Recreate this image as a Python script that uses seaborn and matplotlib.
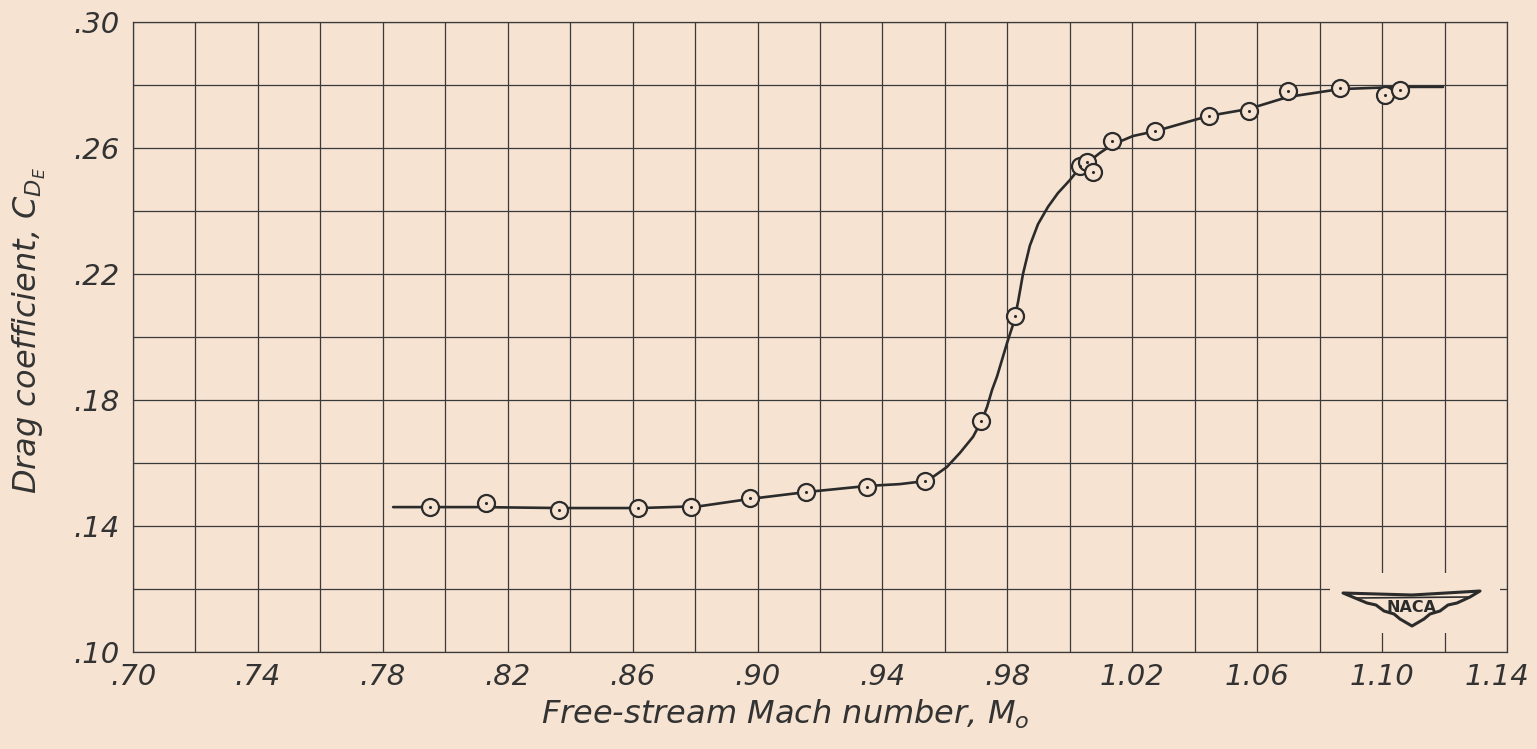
import numpy as np
import pandas as pd
import matplotlib
matplotlib.use("Agg")
import matplotlib.pyplot as plt
import matplotlib.transforms as mtransforms
import seaborn as sns
from matplotlib.patches import Rectangle, Polygon

# ---------------- data ----------------
mach_pts = [0.7951, 0.8130, 0.8364, 0.8617, 0.8787, 0.8976, 0.9155, 0.9350,
            0.9536, 0.9715, 0.9824, 1.0032, 1.0055, 1.0074, 1.0135, 1.0272,
            1.0445, 1.0573, 1.0698, 1.0865, 1.1009, 1.1057]
cd_pts = [0.1460, 0.1473, 0.1451, 0.1457, 0.1460, 0.1489, 0.1508, 0.1524,
          0.1543, 0.1733, 0.2067, 0.2543, 0.2556, 0.2524, 0.2622, 0.2654,
          0.2702, 0.2717, 0.2781, 0.2790, 0.2768, 0.2784]

mach_curve = [0.7833, 0.8111, 0.8367, 0.8623, 0.8816, 0.8976, 0.9158, 0.9350,
              0.9456, 0.9539, 0.9562, 0.9606, 0.9648, 0.9690, 0.9719, 0.9735,
              0.9751, 0.9767, 0.9799, 0.9820, 0.9834, 0.9850, 0.9872, 0.9898,
              0.9930, 0.9962, 1.0000, 1.0026, 1.0055, 1.0096, 1.0135, 1.0202,
              1.0276, 1.0445, 1.0573, 1.0698, 1.0865, 1.1057, 1.1195]
cd_curve = [0.1460, 0.1460, 0.1457, 0.1457, 0.1463, 0.1486, 0.1508, 0.1527,
            0.1533, 0.1543, 0.1556, 0.1587, 0.1632, 0.1683, 0.1737, 0.1778,
            0.1832, 0.1875, 0.1981, 0.2045, 0.2110, 0.2200, 0.2290, 0.2358,
            0.2413, 0.2457, 0.2498, 0.2530, 0.2552, 0.2584, 0.2610, 0.2638,
            0.2654, 0.2702, 0.2724, 0.2762, 0.2787, 0.2794, 0.2794]

x_ticks = [0.70, 0.74, 0.78, 0.82, 0.86, 0.90, 0.94, 0.98, 1.02, 1.06, 1.10, 1.14]
x_labels = [".70", ".74", ".78", ".82", ".86", ".90", ".94", ".98",
            "1.02", "1.06", "1.10", "1.14"]
y_ticks = [0.10, 0.14, 0.18, 0.22, 0.26, 0.30]
y_labels = [".10", ".14", ".18", ".22", ".26", ".30"]

# ---------------- style ----------------
BG = "#f6e3d2"
INK = "#2b2b2b"
sns.set_theme(style="white")
plt.rcParams["font.family"] = ["DejaVu Sans"]
plt.rcParams["mathtext.fontset"] = "dejavusans"

fig = plt.figure(figsize=(15.37, 7.49), dpi=100, facecolor=BG)
ax = fig.add_axes([133 / 1537, 97 / 749, 1374 / 1537, 630 / 749])
ax.set_facecolor(BG)

df_curve = pd.DataFrame({"M": mach_curve, "CD": cd_curve})
df_pts = pd.DataFrame({"M": mach_pts, "CD": cd_pts})

sns.lineplot(data=df_curve, x="M", y="CD", sort=False, ax=ax,
             color=INK, linewidth=1.9, zorder=3)
sns.scatterplot(data=df_pts, x="M", y="CD", ax=ax, marker="o", s=150,
                color=BG, edgecolor=INK, linewidth=1.6, zorder=4)
sns.scatterplot(data=df_pts, x="M", y="CD", ax=ax, marker="o", s=5,
                color=INK, edgecolor=INK, linewidth=0, zorder=5)

ax.set_xlim(0.70, 1.14)
ax.set_ylim(0.10, 0.30)
ax.set_xticks(x_ticks)
ax.set_xticklabels(x_labels)
ax.set_yticks(y_ticks)
ax.set_yticklabels(y_labels)
ax.set_xticks(np.arange(0.72, 1.14, 0.04), minor=True)
ax.set_yticks(np.arange(0.12, 0.30, 0.04), minor=True)
ax.set_axisbelow(True)
ax.grid(which="both", color="#3a3a3a", linewidth=0.9)
ax.tick_params(which="both", length=0)
ax.tick_params(axis="x", pad=8, labelsize=21, labelcolor="#333333")
ax.tick_params(axis="y", pad=10, labelsize=21, labelcolor="#333333")
for lab in ax.get_xticklabels() + ax.get_yticklabels():
    lab.set_fontstyle("italic")
# keep the last x label inside the canvas
last = ax.get_xticklabels()[-1]
last.set_transform(last.get_transform() +
                   mtransforms.ScaledTranslation(-10 / 100, 0, fig.dpi_scale_trans))
for sp in ax.spines.values():
    sp.set_visible(True)
    sp.set_color("#3a3a3a")
    sp.set_linewidth(0.9)

ax.set_xlabel(r"Free-stream Mach number, $M_{o}$", fontsize=23,
              fontstyle="italic", color="#333333")
ax.set_ylabel(r"Drag coefficient, $C_{D_E}$", fontsize=23,
              fontstyle="italic", color="#333333")
ax.xaxis.set_label_coords(0.4745, -0.072)
ax.yaxis.set_label_coords(-0.062, 0.51)

# ---------------- NACA logo ----------------
def axp(px, py):
    return ((px - 133) / 1374, (652 - py) / 630)

r0 = axp(1330, 633)
r1 = axp(1500, 573)
ax.add_patch(Rectangle(r0, r1[0] - r0[0], r1[1] - r0[1], transform=ax.transAxes,
                       facecolor=BG, edgecolor="none", zorder=1))
wing_px = [(1343, 593), (1412, 595), (1480, 591), (1470, 597), (1457, 603),
           (1448, 605), (1440, 611), (1430, 614), (1424, 619), (1412, 626),
           (1400, 619), (1394, 614), (1384, 611), (1376, 605), (1367, 603),
           (1355, 598)]
ax.add_patch(Polygon([axp(*p) for p in wing_px], closed=True,
                     transform=ax.transAxes, facecolor=BG, edgecolor=INK,
                     linewidth=2.2, zorder=2, joinstyle="round"))
l0 = axp(1356, 598)
l1 = axp(1468, 597)
ax.plot([l0[0], l1[0]], [l0[1], l1[1]], transform=ax.transAxes,
        color=INK, linewidth=1.2, zorder=2)
tx, ty = axp(1412, 607)
ax.text(tx, ty, "NACA", transform=ax.transAxes, ha="center", va="center",
        fontsize=11.5, fontweight="bold", color=INK, zorder=3)

fig.savefig("out.png", dpi=100, facecolor=BG)
